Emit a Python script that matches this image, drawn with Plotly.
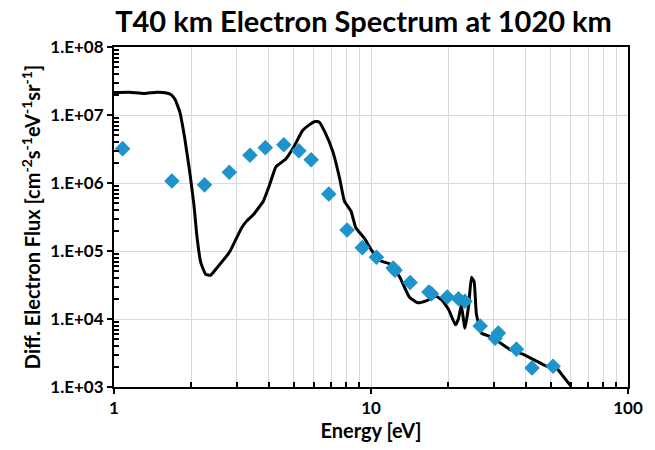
import plotly.graph_objects as go

# Model spectrum (black line): energy [eV], flux
line_energy = [1.0, 1.147, 1.309, 1.466, 1.583, 1.658, 1.727, 1.804, 1.886, 1.970, 2.046, 2.105,
               2.175, 2.273, 2.375, 2.524, 2.755, 2.83, 3.14, 3.28, 3.49, 3.69, 3.81, 4.03, 4.27,
               4.66, 5.01, 5.18, 5.41, 5.75, 6.06, 6.28, 6.62, 7.11, 7.55, 7.88, 8.36, 8.73, 9.39,
               10.1, 10.9, 11.9, 12.95, 14.1, 15.2, 16.4, 17.9, 18.9, 20.1, 21.3, 21.9, 22.45,
               23.2, 24.0, 24.6, 25.2, 25.7, 26.9, 29.3, 32.0, 35.0, 39.3, 44.2, 48.2, 52.6,
               55.8, 60.0]
line_flux = [2.14e7, 2.16e7, 2.07e7, 2.16e7, 2.13e7, 2.02e7, 1.71e7, 1.10e7, 4.48e6, 1.47e6, 4.8e5,
             1.57e5, 6.8e4, 4.55e4, 4.4e4, 5.75e4, 8.6e4, 1.0e5, 2.2e5, 2.75e5, 3.44e5, 4.55e5,
             5.4e5, 9.4e5, 1.74e6, 2.25e6, 3.4e6, 4.33e6, 5.87e6, 7.16e6, 8.0e6, 7.9e6, 5.6e6,
             2.87e6, 1.17e6, 5.4e5, 3.85e5, 2.2e5, 1.57e5, 1.0e5, 7.2e4, 6.4e4, 4.1e4, 2.1e4,
             1.73e4, 1.85e4, 2.16e4, 1.89e4, 1.35e4, 8.2e3, 1.01e4, 1.61e4, 7.3e3, 1.6e4, 4.1e4,
             3.5e4, 1.2e4, 6.2e3, 5.5e3, 4.4e3, 3.5e3, 3.0e3, 2.39e3, 2.02e3, 1.91e3, 1.45e3,
             1.03e3]

# Measured data (blue diamonds)
obs_energy = [1.08, 1.68, 2.25, 2.81, 3.38, 3.88, 4.58, 5.24, 5.85, 6.85, 8.07, 9.25, 10.5, 12.2,
              12.4, 14.2, 16.8, 17.2, 19.8, 21.9, 23.2, 26.6, 30.4, 31.3, 36.8, 42.3, 51.1]
obs_flux = [3.2e6, 1.07e6, 9.4e5, 1.44e6, 2.56e6, 3.31e6, 3.66e6, 2.97e6, 2.2e6, 6.9e5, 2.04e5,
            1.12e5, 8.1e4, 5.6e4, 5.2e4, 3.45e4, 2.5e4, 2.35e4, 2.11e4, 1.99e4, 1.82e4, 7.9e3,
            5.2e3, 6.2e3, 3.6e3, 1.91e3, 2.02e3]

y_tickvals = [1e3, 1e4, 1e5, 1e6, 1e7, 1e8]
y_ticktext = ["1.E+03", "1.E+04", "1.E+05", "1.E+06", "1.E+07", "1.E+08"]
x_tickvals = [1, 10, 100]
x_ticktext = ["1", "10", "100"]

FONT = "Lato"

fig = go.Figure()
fig.add_trace(go.Scatter(x=line_energy, y=line_flux, mode="lines",
                         line=dict(color="black", width=3, shape="spline", smoothing=0.4),
                         showlegend=False))
fig.add_trace(go.Scatter(x=obs_energy, y=obs_flux, mode="markers",
                         marker=dict(symbol="diamond", size=12, color="#1f94cc"),
                         showlegend=False))

fig.update_layout(
    width=655, height=450,
    margin=dict(l=114, r=15, t=47, b=59),
    paper_bgcolor="white", plot_bgcolor="white",
    title=dict(text="<b>T40 km Electron Spectrum at 1020 km</b>", x=0.555, xanchor="center",
               y=0.952, yanchor="middle", font=dict(family=FONT, size=29, color="black")),
    font=dict(family=FONT, color="black"),
)
fig.update_xaxes(
    type="log", range=[0, 2], tickvals=x_tickvals, ticktext=x_ticktext,
    tickfont=dict(family=FONT, size=17, color="black", weight="bold"),
    ticks="outside", ticklen=5, tickwidth=2, tickcolor="black",
    showline=True, linecolor="black", linewidth=2, mirror=True,
    showgrid=True, gridcolor="#d9d9d9", gridwidth=1,
    minor=dict(tickvals=[2, 3, 4, 5, 6, 7, 8, 9, 20, 30, 40, 50, 60, 70, 80, 90],
               ticks="inside", ticklen=5, tickwidth=1.5, tickcolor="black",
               showgrid=True, gridcolor="#d9d9d9", gridwidth=1),
    title=dict(text="<b>Energy [eV]</b>", font=dict(family=FONT, size=20, color="black"), standoff=6),
    zeroline=False,
)
minor_y = []
for d in [1e3, 1e4, 1e5, 1e6, 1e7]:
    minor_y += [d * k for k in range(2, 10)]
fig.update_yaxes(
    type="log", range=[3, 8], tickvals=y_tickvals, ticktext=y_ticktext,
    tickfont=dict(family=FONT, size=17, color="black", weight="bold"),
    ticks="outside", ticklen=5, tickwidth=2, tickcolor="black",
    showline=True, linecolor="black", linewidth=2, mirror=True,
    showgrid=True, gridcolor="#d9d9d9", gridwidth=1,
    minor=dict(tickvals=minor_y, ticks="inside", ticklen=5, tickwidth=1.5, tickcolor="black",
               showgrid=False),
    title=dict(text="<b>Diff. Electron Flux [cm<sup>-2</sup>s<sup>-1</sup>eV<sup>-1</sup>sr<sup>-1</sup>]</b>",
               font=dict(family=FONT, size=20, color="black"), standoff=4),
    zeroline=False,
)

fig.write_html("out.html")
